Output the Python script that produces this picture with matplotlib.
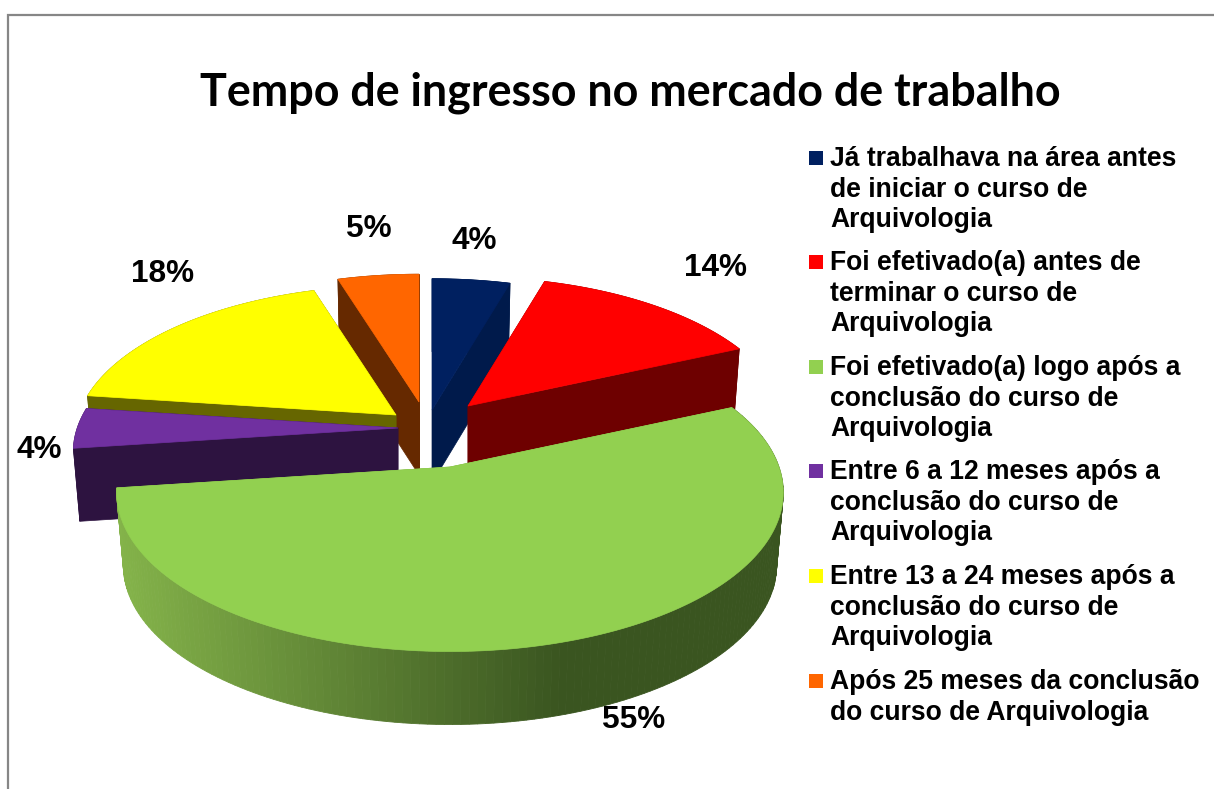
import numpy as np
import matplotlib
matplotlib.use("Agg")
import matplotlib.pyplot as plt
from matplotlib.colors import to_rgb
from matplotlib.patches import Polygon, Rectangle

title = "Tempo de ingresso no mercado de trabalho"
categories = [
    "Já trabalhava na área antes\nde iniciar o curso de\nArquivologia",
    "Foi efetivado(a) antes de\nterminar o curso de\nArquivologia",
    "Foi efetivado(a) logo após a\nconclusão do curso de\nArquivologia",
    "Entre 6 a 12 meses após a\nconclusão do curso de\nArquivologia",
    "Entre 13 a 24 meses após a\nconclusão do curso de\nArquivologia",
    "Após 25 meses da conclusão\ndo curso de Arquivologia",
]
values = [4.49, 13.81, 54.6, 4.2, 18.1, 4.8]
colors = ["#002060", "#FF0000", "#92D050", "#7030A0", "#FFFF00", "#FF6600"]
wall_colors = ["#001A4B", "#6E0000", "#7FAE45", "#2D1340", "#666600", "#662900"]

# where each slice has been pulled to, and its size (green one stays in place)
apex_x = [432, 468, 450, 398, 396, 419]
apex_y = [410, 406, 467, 428, 415, 402]
scales = [0.98, 0.96, 1.0, 0.975, 0.965, 0.95]
label_x = [474, 715, 634, 39, 163, 369]
label_y = [241, 268, 720, 450, 274, 229]
legend_y = [166, 270, 375, 479, 584, 689]

# perspective of the pie plane
RX = 329
RY = 155
PERSP = 0.16
DEPTH = 73
DRAW_ORDER = [5, 4, 3, 0, 1, 2]

fig = plt.figure(figsize=(12.14, 7.89), dpi=100)
ax = fig.add_axes([0, 0, 1, 1])
ax.set_xlim(0, 1214)
ax.set_ylim(789, 0)
ax.axis("off")


def project(angle, r, cx, cy, s):
    u = r * s * np.sin(angle)
    v = r * s * np.cos(angle)
    w = 1 + PERSP * v
    return cx + RX * u / w, cy - RY * v / w


def bottom(xs, ys, cx):
    # lower plane is a bit narrower than the top one
    return cx + (np.asarray(xs) - cx) * 0.98, np.asarray(ys) + DEPTH


def shade_green(x):
    # lighter on the left, dark from about x=560 on
    t = np.clip((x - 120) / 440, 0, 1)
    a = np.array(to_rgb("#84B34A"))
    b = np.array(to_rgb("#3A5520"))
    return a + (b - a) * t


edges = np.cumsum([0] + values) / sum(values) * 2 * np.pi

for i in DRAW_ORDER:
    angles = np.linspace(edges[i], edges[i + 1], 160)
    cx, cy, s = apex_x[i], apex_y[i], scales[i]
    xs, ys = project(angles, 1, cx, cy, s)
    bx, by = bottom(xs, ys, cx)
    acx, acy = cx, cy + DEPTH
    wall = wall_colors[i]

    # radial walls
    for xe, ye, bxe, bye in [(xs[0], ys[0], bx[0], by[0]), (xs[-1], ys[-1], bx[-1], by[-1])]:
        ax.add_patch(Polygon([(cx, cy), (xe, ye), (bxe, bye), (acx, acy)], closed=True,
                             fc=wall, ec=wall, lw=0.5))
    # outer wall
    if i == 2:
        for k in range(len(xs) - 1):
            c = shade_green((xs[k] + xs[k + 1]) / 2)
            ax.add_patch(Polygon([(xs[k], ys[k]), (xs[k + 1], ys[k + 1]), (bx[k + 1], by[k + 1]), (bx[k], by[k])],
                                 closed=True, fc=c, ec=c, lw=0.6))
    else:
        ax.add_patch(Polygon(np.r_[np.c_[xs, ys], np.c_[bx, by][::-1]], closed=True, fc=wall, ec=wall, lw=0.5))
    # top
    ax.add_patch(Polygon(np.r_[[(cx, cy)], np.c_[xs, ys]], closed=True, fc=colors[i], ec=colors[i], lw=0.5))

for v, x, y in zip(values, label_x, label_y):
    ax.text(x, y, f"{v:.0f}%", ha="center", va="center", family="Liberation Sans",
            weight="bold", fontsize=22.7, color="black")

for cat, color, y in zip(categories, colors, legend_y):
    ax.add_patch(Rectangle((809, y - 15), 14, 14, fc=color, ec="none"))
    for n, line in enumerate(cat.split("\n")):
        ax.text(830, y + n * 30.7, line, ha="left", va="baseline", family="Liberation Sans",
                weight="bold", fontsize=19.1, color="black")

ax.text(630, 105, title, ha="center", va="baseline", family="Lato", weight="bold", fontsize=32.3, color="black")

# chart area border, only top and left are in the picture
ax.plot([8, 8, 1214], [789, 15, 15], color="#868686", lw=1.6, solid_joinstyle="miter")

plt.savefig("out.png", dpi=100)
plt.close()
